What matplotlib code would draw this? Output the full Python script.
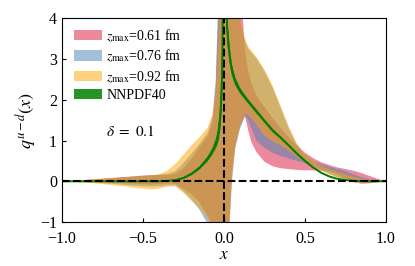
import numpy as np
import matplotlib
matplotlib.use("Agg")
import matplotlib.pyplot as plt
from matplotlib.patches import Patch

plt.rcParams['font.family'] = ['Liberation Serif', 'DejaVu Serif']
plt.rcParams['mathtext.fontset'] = 'stix'

# x grid (shared by all bands)
x = [-1.0, -0.9, -0.8, -0.7, -0.6, -0.5, -0.45, -0.4,
     -0.35, -0.3, -0.25, -0.2, -0.15, -0.1, -0.07, -0.05, -0.04, -0.03, -0.02, -0.01,
     0.0,
     0.01, 0.02, 0.03, 0.04, 0.05, 0.07, 0.1, 0.13, 0.15, 0.17,
     0.2, 0.25, 0.3, 0.35, 0.4, 0.45, 0.5, 0.55, 0.6, 0.65, 0.7, 0.75, 0.8, 0.85, 0.9, 0.95, 1.0]

# z_max = 0.61 fm band
pink_hi = [0, 0.02, 0.05, 0.08, 0.11, 0.14, 0.15, 0.16,
           0.16, 0.18, 0.32, 0.55, 0.85, 1.1, 1.45, 2.3, 3.5, 4.6, 5.5, 6,
           6,
           6, 6, 6, 6, 6, 6, 5.0, 3.2, 2.7, 2.4,
           2.1, 1.82, 1.55, 1.3, 1.08, 0.88, 0.7, 0.57, 0.47, 0.4, 0.34, 0.3, 0.26, 0.2, 0.13, 0.06, 0.0]
pink_lo = [0, 0.0, -0.01, -0.03, -0.05, -0.07, -0.08, -0.07,
           -0.05, -0.06, -0.18, -0.32, -0.52, -0.85, -1.05, -1.4, -1.8, -2.5, -3, -3,
           -3,
           -3, -2.5, -1.3, -0.5, 0.2, 0.9, 1.35, 1.6, 1.25, 0.95,
           0.72, 0.48, 0.37, 0.32, 0.3, 0.28, 0.27, 0.27, 0.26, 0.24, 0.17, 0.06, -0.02, -0.06, -0.05, -0.02, 0.0]

# z_max = 0.76 fm band
blue_hi = [0, 0.02, 0.04, 0.07, 0.1, 0.13, 0.14, 0.16,
           0.18, 0.25, 0.45, 0.68, 0.92, 1.2, 1.6, 2.5, 3.8, 5, 6, 6,
           6,
           6, 6, 6, 6, 6, 5, 3.9, 3.45, 3.25, 3.15,
           3.02, 2.7, 2.3, 1.8, 1.3, 0.9, 0.65, 0.5, 0.42, 0.36, 0.3, 0.25, 0.17, 0.1, 0.05, 0.02, 0.0]
blue_lo = [0, -0.01, -0.03, -0.06, -0.09, -0.12, -0.13, -0.12,
           -0.1, -0.1, -0.25, -0.45, -0.7, -1.05, -1.4, -1.8, -2.2, -2.8, -3, -3,
           -3,
           -3, -2.6, -1.5, -0.7, 0.0, 0.8, 1.3, 1.6, 1.5, 1.3,
           1.0, 0.82, 0.7, 0.62, 0.56, 0.5, 0.45, 0.38, 0.28, 0.18, 0.1, 0.04, 0.0, -0.02, -0.02, -0.01, 0.0]

# z_max = 0.92 fm band
yel_hi = [0, 0.02, 0.05, 0.08, 0.1, 0.13, 0.15, 0.17,
          0.26, 0.42, 0.65, 0.88, 1.08, 1.32, 1.65, 2.2, 2.9, 3.7, 4.6, 6,
          6,
          6, 6, 6, 6, 6, 5, 3.95, 3.5, 3.3, 3.2,
          3.05, 2.75, 2.35, 1.85, 1.35, 0.93, 0.66, 0.5, 0.38, 0.3, 0.23, 0.17, 0.11, 0.06, 0.03, 0.01, 0.0]
yel_lo = [0, -0.02, -0.05, -0.09, -0.13, -0.18, -0.2, -0.18,
          -0.13, -0.12, -0.28, -0.48, -0.65, -0.92, -1.15, -1.5, -2, -2.6, -3, -3,
          -3,
          -3, -2.5, -1.4, -0.6, 0.1, 0.85, 1.35, 1.65, 1.62, 1.55,
          1.39, 1.12, 0.98, 0.88, 0.75, 0.6, 0.47, 0.37, 0.27, 0.17, 0.09, 0.03, -0.02, -0.04, -0.04, -0.02, 0.0]

# NNPDF40 central value and uncertainty
nnpdf = [0, 0, 0, 0, 0, 0, 0, 0.002,
         0.01, 0.03, 0.08, 0.18, 0.33, 0.55, 0.74, 0.92, 1.05, 1.28, 1.7, 2.7,
         8.0,
         5.0, 3.75, 3.3, 2.95, 2.72, 2.45, 2.22, 2.06, 1.96, 1.86,
         1.72, 1.48, 1.25, 1.07, 0.88, 0.68, 0.5, 0.34, 0.21, 0.12, 0.06, 0.03, 0.01, 0.005, 0, 0, 0]
nnpdf_err = [0, 0, 0, 0, 0, 0, 0, 0.003,
             0.01, 0.015, 0.02, 0.03, 0.04, 0.06, 0.08, 0.12, 0.16, 0.25, 0.38, 0.7,
             1.0,
             0.6, 0.35, 0.25, 0.18, 0.14, 0.1, 0.07, 0.06, 0.05, 0.05,
             0.05, 0.04, 0.04, 0.035, 0.03, 0.03, 0.025, 0.02, 0.015, 0.01, 0.008, 0.005, 0.003, 0.002, 0, 0, 0]

labels = [r'$z_{\rm max}$=0.61 fm', r'$z_{\rm max}$=0.76 fm', r'$z_{\rm max}$=0.92 fm', 'NNPDF40']
colors = ['crimson', 'steelblue', 'orange']
band_alpha = 0.5
green = 'green'
green_alpha = 0.85

xa = np.array(x)
fig = plt.figure(figsize=(4.15, 2.66), dpi=100)
ax = fig.add_axes([0.149, 0.165, 0.781, 0.767])

for lo, hi, c in [(pink_lo, pink_hi, colors[0]), (blue_lo, blue_hi, colors[1]), (yel_lo, yel_hi, colors[2])]:
    ax.fill_between(xa, lo, hi, color=c, alpha=band_alpha, lw=0)

g = np.array(nnpdf)
ge = np.array(nnpdf_err)
ax.fill_between(xa, g - ge, g + ge, color=green, alpha=green_alpha, lw=0)
ax.plot(xa, g, color=green, lw=1.4)

ax.axhline(0, color='black', ls='--', lw=1.5)
ax.axvline(0, color='black', ls='--', lw=1.5)

ax.set_xlim(-1, 1)
ax.set_ylim(-1, 4)
ax.set_xticks([-1.0, -0.5, 0.0, 0.5, 1.0])
ax.set_yticks([-1, 0, 1, 2, 3, 4])
ax.tick_params(direction='in', labelsize=11.5, length=3)
ax.tick_params(axis='x', pad=6.5)
ax.set_xlabel(r'$x$', fontsize=12.5, labelpad=0)
ax.set_ylabel(r'$q^{u-d}(x)$', fontsize=13, labelpad=1)
ax.text(-0.58, 1.23, r'$\delta\ =\ 0.1$', fontsize=11, ha='center', va='center')

handles = [Patch(color=c, alpha=band_alpha, lw=0) for c in colors] + \
          [Patch(color=green, alpha=green_alpha, lw=0)]
ax.legend(handles, labels, loc='upper left', bbox_to_anchor=(0.01, 1.0), frameon=False,
          fontsize=10, handlelength=2.0, handleheight=0.75, handletextpad=0.3,
          labelspacing=0.28, borderaxespad=0.25)

fig.savefig('out.png', dpi=100)
